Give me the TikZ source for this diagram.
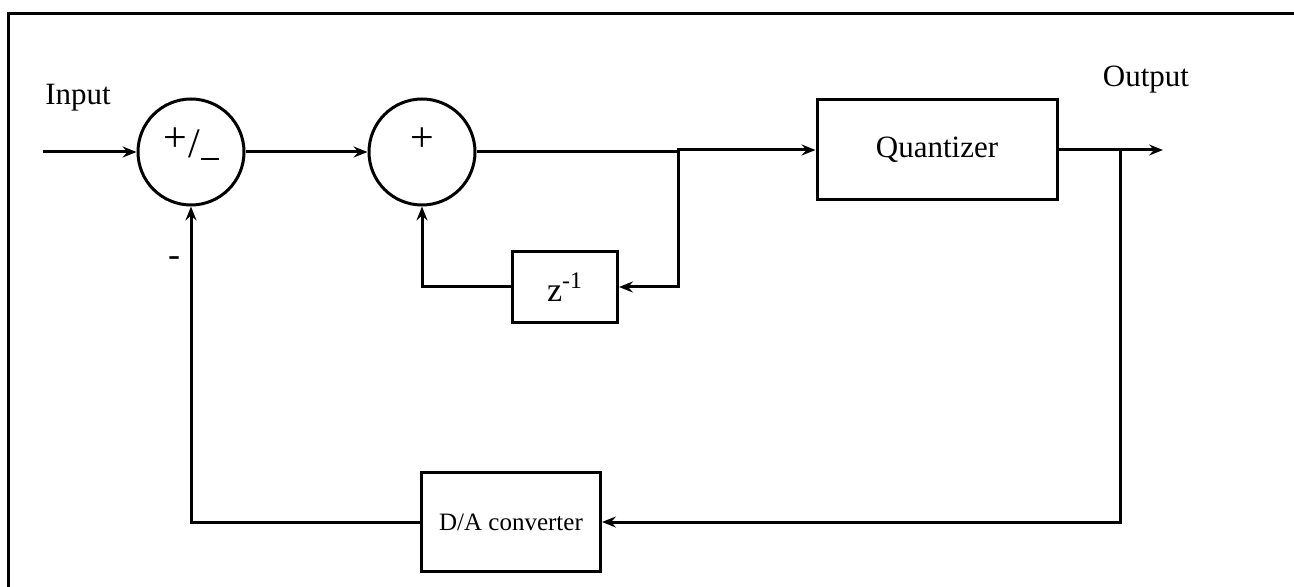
\documentclass[tikz,border=0pt]{standalone}
\usepackage{fontspec}
\setmainfont{Liberation Serif}
\usetikzlibrary{arrows.meta}
\begin{document}
\begin{tikzpicture}[x=0.5pt,y=-0.5pt,
  line width=1.5pt,
  every node/.style={font=\fontsize{15.5}{18}\selectfont},
  sumnode/.style={draw,circle,minimum size=53pt,inner sep=0pt},
  blockbox/.style={draw,rectangle,inner sep=0pt},
  arr/.style={-{Stealth[length=7pt,width=5.5pt,inset=2.5pt]}},
  lbl/.style={inner sep=0pt}]
\useasboundingbox (0,0) rectangle (1294,587);
\draw (1294,14) -- (8,14) -- (8,587);

\node[sumnode] (s1) at (191,152) {\raisebox{9pt}{\fontsize{21}{22}\selectfont \raisebox{3pt}{+}\kern0.5pt/\kern0.5pt\rule[-1pt]{9pt}{1pt}}};
\node[sumnode] (s2) at (422,152) {\raisebox{12pt}{\fontsize{21}{22}\selectfont +}};
\node[blockbox,minimum width=120pt,minimum height=50pt] (q) at (937,150) {Quantizer};
\node[blockbox,minimum width=52.5pt,minimum height=35.5pt] (z) at (565,287) {\fontsize{17}{18}\selectfont z\textsuperscript{-1}};
\node[blockbox,minimum width=89.5pt,minimum height=49.5pt] (da) at (511,522) {\fontsize{12.5}{15}\selectfont D/A converter};

\node[lbl] (in) at (78,98) {Input};
\node[lbl] (out) at (1146,80) {Output};
\node[lbl] (minus) at (174,262) {\fontsize{18}{18}\selectfont -};

\coordinate (inS) at (43,152);
\coordinate (j1) at (678,152);
\coordinate (j2) at (1120,150);
\coordinate (outE) at (1163,150);

\draw[arr] (inS) -- (s1.west);
\draw[arr] (s1.east) -- (s2.west);
\draw[arr] (s2.east) -- (j1) -- (j1 |- q.west) -- (q.west);
\draw[arr] (j1) |- (z.east);
\draw[arr] (z.west) -| (s2.south);
\draw[arr] (q.east) -- (outE);
\draw[arr] (j2) |- (da.east);
\draw[arr] (da.west) -| (s1.south);
\end{tikzpicture}
\end{document}
